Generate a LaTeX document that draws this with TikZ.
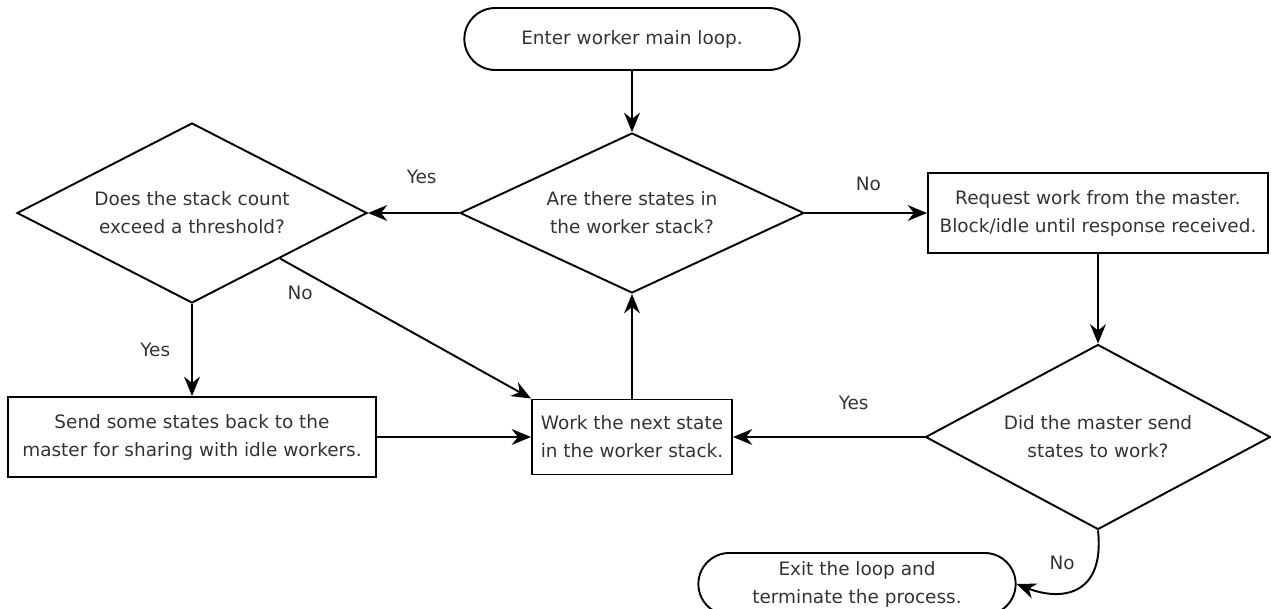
\documentclass[tikz,border=0pt]{standalone}
\usepackage{fontspec}
\setmainfont{DejaVu Sans}
\usetikzlibrary{arrows.meta,positioning,shapes.geometric,shapes.misc}

\begin{document}
\begin{tikzpicture}[
  terminal/.style={draw, rounded rectangle, minimum height=1.24cm, align=center},
  decision/.style={draw, diamond, aspect=2, inner sep=0pt, align=center},
  process/.style={draw, rectangle, align=center},
  every node/.style={font=\fontsize{10.5}{16}\selectfont, text=black!80},
  ->,>={Stealth[length=11pt,width=9pt]},line width=1.1pt
]
\useasboundingbox (0,0) rectangle (25.42,-12.18);

\node[terminal, minimum width=6.94cm] (start) at (12.64,-0.78) {Enter worker main loop.};
\node[decision, minimum width=6.88cm, minimum height=3.2cm] (instack) at (12.64,-4.26)
  {Are there states in\\the worker stack?};
\node[decision, minimum width=7cm, minimum height=3.6cm] (thresh) at (3.84,-4.26)
  {Does the stack count\\exceed a threshold?};
\node[process, minimum width=6.8cm, minimum height=1.6cm] (request) at (21.96,-4.26)
  {Request work from the master.\\Block/idle until response received.};
\node[decision, minimum width=6.9cm, minimum height=3.7cm] (gotwork) at (21.96,-8.74)
  {Did the master send\\states to work?};
\node[process, minimum width=4cm, minimum height=1.5cm] (work) at (12.64,-8.74)
  {Work the next state\\in the worker stack.};
\node[process, minimum width=7.36cm, minimum height=1.6cm] (share) at (3.84,-8.74)
  {Send some states back to the\\master for sharing with idle workers.};
\node[terminal, minimum width=6.58cm] (exit) at (17.14,-11.68)
  {Exit the loop and\\terminate the process.};

\draw (start) -- (instack);
\draw (instack.west) -- node[pos=0.41, above=0.45cm] {Yes} (thresh.east);
\draw (instack.east) -- node[pos=0.52, above=0.3cm] {No} (request.west);
\draw (request) -- (gotwork);
\draw (gotwork.west) -- node[pos=0.37, above=0.4cm] {Yes} (work.east);
\draw (work) -- (instack);
\draw (thresh.south) -- node[pos=0.5, left=0.3cm] {Yes} (share.north);
\draw (share) -- (work);
\draw (thresh.south east) -- node[pos=0.08, below=0.2cm] {No} (work.north west);
\draw (gotwork.south) .. controls +(0.14,-1.3) and +(0.9,-0.35) ..
  node[pos=0.2, left=0.3cm] {No} (exit.east);
\end{tikzpicture}
\end{document}
